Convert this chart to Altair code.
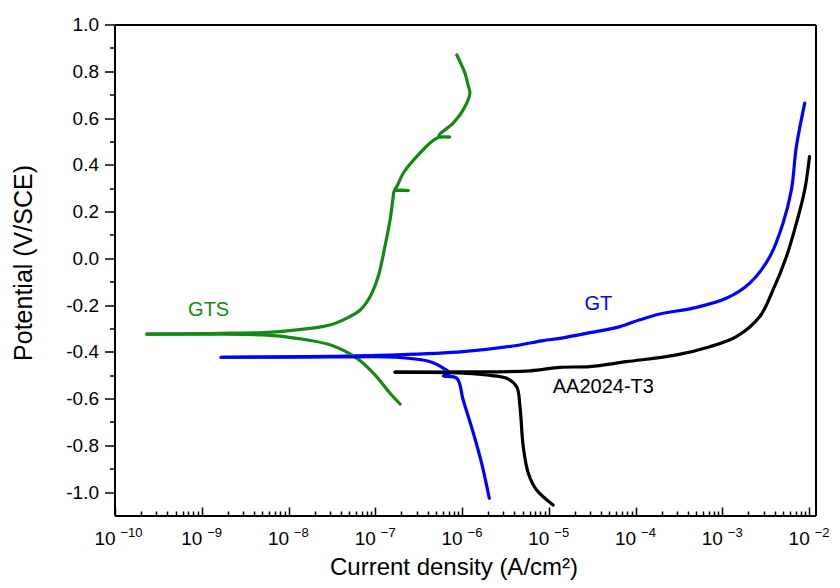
import altair as alt
import pandas as pd

# ---------------- data ----------------
# current density in A/cm^2, potential in V/SCE
GTS_CATH_I = [2.33e-10, 1.26e-9, 5.1e-9, 1.24e-8, 3.0e-8, 6.1e-8, 9.5e-8, 1.48e-7, 1.93e-7]
GTS_CATH_E = [-0.3225, -0.322, -0.3255, -0.340, -0.368, -0.425, -0.489, -0.575, -0.621]
GTS_ANOD_I = [2.33e-10, 1.26e-9, 2.12e-9, 5.1e-9, 1.24e-8, 3.0e-8, 5.1e-8, 6.7e-8, 8.7e-8,
              1.08e-7, 1.29e-7, 1.48e-7, 1.61e-7, 1.66e-7, 2.4e-7, 1.68e-7, 1.77e-7, 2.10e-7,
              3.0e-7, 5.1e-7, 7.2e-7, 5.4e-7, 7.9e-7, 1.03e-6, 1.23e-6, 1.18e-6, 1.08e-6, 8.7e-7]
GTS_ANOD_E = [-0.3225, -0.320, -0.318, -0.316, -0.304, -0.283, -0.247, -0.219, -0.162,
              -0.076, 0.052, 0.166, 0.266, 0.290, 0.292, 0.296, 0.309, 0.366,
              0.437, 0.516, 0.521, 0.526, 0.580, 0.637, 0.708, 0.740, 0.794, 0.872]

GT_CATH_I = [1.67e-9, 3.0e-8, 1.77e-7, 4.3e-7, 6.1e-7, 7.2e-7, 6.1e-7, 8.7e-7, 1.03e-6,
             1.35e-6, 1.68e-6, 2.06e-6]
GT_CATH_E = [-0.421, -0.420, -0.421, -0.440, -0.468, -0.489, -0.501, -0.511, -0.604,
             -0.746, -0.874, -1.024]
GT_ANOD_I = [1.67e-9, 3.0e-8, 1.77e-7, 1.03e-6, 3.88e-6, 8.6e-6, 1.34e-5, 2.97e-5, 6.6e-5,
             1.12e-4, 1.90e-4, 4.6e-4, 1.11e-3, 2.07e-3, 3.52e-3, 5.0e-3, 6.25e-3, 7.13e-3,
             8.9e-3]
GT_ANOD_E = [-0.421, -0.417, -0.411, -0.397, -0.373, -0.350, -0.340, -0.316, -0.290,
             -0.261, -0.236, -0.211, -0.169, -0.104, 0.009, 0.152, 0.295, 0.480,
             0.666]

AA_CATH_I = [1.69e-7, 1.03e-6, 1.92e-6, 3.26e-6, 4.26e-6, 4.65e-6, 5.07e-6, 5.8e-6,
             7.2e-6, 1.12e-5]
AA_CATH_E = [-0.485, -0.489, -0.497, -0.511, -0.547, -0.632, -0.803, -0.917,
             -0.988, -1.053]
AA_ANOD_I = [1.69e-7, 1.03e-6, 6.05e-6, 1.34e-5, 2.97e-5, 7.85e-5, 2.96e-4, 7.16e-4,
             1.45e-3, 2.70e-3, 3.84e-3, 5.47e-3, 7.13e-3, 8.9e-3, 1.01e-2]
AA_ANOD_E = [-0.485, -0.484, -0.479, -0.464, -0.461, -0.440, -0.411, -0.376,
             -0.333, -0.247, -0.133, 0.009, 0.152, 0.295, 0.437]

SERIES = ["GTS", "GT", "AA2024-T3"]
COLORS = ["#148a14", "#0000ff", "#000000"]

# curve labels: two centred, one left-aligned
LABEL_C_TEXT = ["GTS", "GT"]
LABEL_C_I = [1.2e-9, 3.72e-5]
LABEL_C_E = [-0.221, -0.194]
LABEL_L_TEXT = ["AA2024-T3"]
LABEL_L_I = [1.11e-5]
LABEL_L_E = [-0.547]

X_DOMAIN = [1e-10, 1.2e-2]
Y_DOMAIN = [-1.1, 1.0]
X_MAJOR = [1e-10, 1e-9, 1e-8, 1e-7, 1e-6, 1e-5, 1e-4, 1e-3, 1e-2]
X_MINOR_MULT = [2, 3, 4, 5, 6, 7, 8, 9]
Y_TICKS = [-1.0, -0.9, -0.8, -0.7, -0.6, -0.5, -0.4, -0.3, -0.2, -0.1, 0.0,
           0.1, 0.2, 0.3, 0.4, 0.5, 0.6, 0.7, 0.8, 0.9, 1.0]

# ---------------- tables ----------------
def branch_table(items):
    rows = []
    for name, branch, I, E in items:
        for k, (i, e) in enumerate(zip(I, E)):
            rows.append({"series": name, "branch": name + branch, "order": k, "I": i, "E": e})
    return pd.DataFrame(rows)

df_anod = branch_table([("GTS", "a", GTS_ANOD_I, GTS_ANOD_E), ("GT", "a", GT_ANOD_I, GT_ANOD_E),
                        ("AA2024-T3", "a", AA_ANOD_I, AA_ANOD_E)])
df_cath = branch_table([("GTS", "c", GTS_CATH_I, GTS_CATH_E), ("GT", "c", GT_CATH_I, GT_CATH_E),
                        ("AA2024-T3", "c", AA_CATH_I, AA_CATH_E)])
lab_c = pd.DataFrame({"series": LABEL_C_TEXT, "I": LABEL_C_I, "E": LABEL_C_E})
lab_l = pd.DataFrame({"series": LABEL_L_TEXT, "I": LABEL_L_I, "E": LABEL_L_E})
# top and right edges of the frame, at the scale domain limits
frame = pd.DataFrame({
    "x1": [X_DOMAIN[0], X_DOMAIN[1]], "x2": [X_DOMAIN[1], X_DOMAIN[1]],
    "y1": [Y_DOMAIN[1], Y_DOMAIN[0]], "y2": [Y_DOMAIN[1], Y_DOMAIN[1]],
})

x_all = sorted(X_MAJOR + [m * v for v in X_MAJOR[:-1] for m in X_MINOR_MULT])

W, H = 701, 491
FONT = "Liberation Sans"
xscale = alt.Scale(type="log", domain=X_DOMAIN, nice=False)
yscale = alt.Scale(domain=Y_DOMAIN, nice=False, zero=False)
cscale = alt.Scale(domain=SERIES, range=COLORS)

major_test_x = "abs(log(datum.value)/LN10 - round(log(datum.value)/LN10)) < 0.01"
major_test_y = "abs(round(datum.value*10)) % 2 == 0"
ylab_expr = ("abs(round(datum.value*10)) % 2 == 0 ? (datum.value < -0.001 ? '-' : '') + "
             "format(abs(datum.value), '.1f') : ''")
exp_expr = "'\u2212' + abs(round(log(datum.value)/LN10))"

# bottom axis: domain line, "10" mantissas, title
x_bottom = alt.Axis(
    orient="bottom", values=X_MAJOR, labelExpr="'10'", ticks=False, tickSize=0,
    domain=True, domainColor="black", domainWidth=2, grid=False, translate=0,
    labelFont=FONT, labelFontSize=19, labelColor="black", labelPadding=29,
    labelBaseline="alphabetic", labelOffset=-10,
    labelFlush=False, labelOverlap=False,
    title="Current density (A/cm\u00b2)", titleFont=FONT, titleFontSize=24,
    titleFontWeight="normal", titleColor="black", titleX=339, titleY=59,
    titleBaseline="alphabetic", titleAlign="center",
)
# inward pointing ticks along the bottom edge
x_ticks = alt.Axis(
    orient="top", offset=-H, values=x_all, labels=False, domain=False, grid=False,
    ticks=True, tickColor="black", tickWidth=1.5,
    tickSize={"condition": {"test": major_test_x, "value": 9}, "value": 5},
    title=None,
)
# exponents of the decade labels
x_exp = alt.Axis(
    orient="top", offset=-(H + 20), values=X_MAJOR, labelExpr=exp_expr,
    ticks=False, tickSize=0, domain=False, grid=False,
    labelFont=FONT, labelFontSize=13, labelColor="black", labelPadding=0,
    labelBaseline="alphabetic", labelAlign="left", labelOffset=5,
    labelFlush=False, labelOverlap=False, title=None,
)
y_axis = alt.Axis(
    orient="left", values=Y_TICKS, labelExpr=ylab_expr, grid=False, translate=0,
    tickColor="black", tickWidth=1.5,
    tickSize={"condition": {"test": major_test_y, "value": 10}, "value": 5},
    domain=True, domainColor="black", domainWidth=2,
    labelFont=FONT, labelFontSize=19, labelColor="black", labelPadding=6,
    labelOverlap=False, labelFlush=False,
    title="Potential (V/SCE)", titleFont=FONT, titleFontSize=25,
    titleFontWeight="normal", titleColor="black", titleX=-83, titleY=238,
    titleBaseline="alphabetic", titleAlign="center", titleAngle=270,
)

line_mark = dict(strokeWidth=3.2, strokeJoin="round", strokeCap="round", interpolate="catmull-rom")

anodic = alt.Chart(df_anod).mark_line(**line_mark).encode(
    x=alt.X("I:Q", scale=xscale, axis=x_bottom),
    y=alt.Y("E:Q", scale=yscale, axis=y_axis),
    color=alt.Color("series:N", scale=cscale, legend=None),
    detail="branch:N",
    order="order:Q",
)
cathodic = alt.Chart(df_cath).mark_line(**line_mark).encode(
    x=alt.X("I:Q", scale=xscale, axis=None),
    y=alt.Y("E:Q", scale=yscale, axis=None),
    color=alt.Color("series:N", scale=cscale, legend=None),
    detail="branch:N",
    order="order:Q",
)
labels_c = alt.Chart(lab_c).mark_text(font=FONT, fontSize=20, align="center", baseline="middle").encode(
    x=alt.X("I:Q", scale=xscale, axis=x_ticks),
    y=alt.Y("E:Q", scale=yscale, axis=None),
    text="series:N",
    color=alt.Color("series:N", scale=cscale, legend=None),
)
labels_l = alt.Chart(lab_l).mark_text(font=FONT, fontSize=20, align="left", baseline="middle").encode(
    x=alt.X("I:Q", scale=xscale, axis=x_exp),
    y=alt.Y("E:Q", scale=yscale, axis=None),
    text="series:N",
    color=alt.Color("series:N", scale=cscale, legend=None),
)
edges = alt.Chart(frame).mark_rule(color="#000000", strokeWidth=2, opacity=1).encode(
    x=alt.X("x1:Q", scale=xscale, axis=None), x2="x2:Q",
    y=alt.Y("y1:Q", scale=yscale, axis=None), y2="y2:Q",
)

chart = alt.layer(anodic, cathodic, labels_c, labels_l, edges).resolve_axis(
    x="independent", y="independent"
).properties(
    width=W, height=H,
    autosize=alt.AutoSizeParams(type="none"),
    padding={"left": 107, "top": 17, "right": 16, "bottom": 64},
    background="white",
).configure_view(strokeWidth=0)

chart.save("out.html", embed_options={"renderer": "svg", "actions": False})
